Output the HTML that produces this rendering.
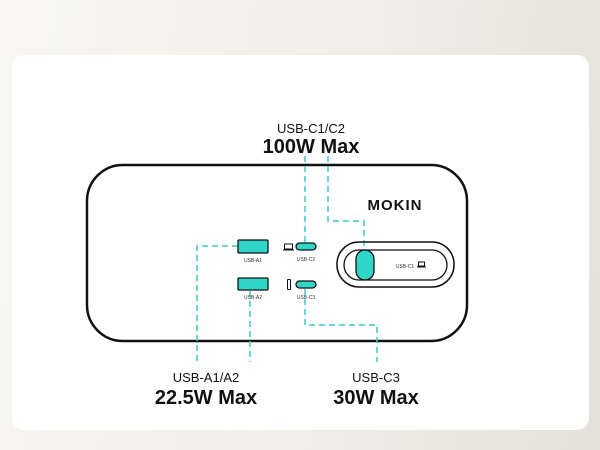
<!DOCTYPE html>
<html><head><style>
html,body{margin:0;padding:0;}
body{width:600px;height:450px;overflow:hidden;background:linear-gradient(100deg,#f8f7f3 0%,#efede6 60%,#e4e1d6 100%);font-family:"Liberation Sans",sans-serif;}
</style></head><body>
<svg width="600" height="450" xmlns="http://www.w3.org/2000/svg" style="position:absolute;left:0;top:0">
<rect x="12" y="55" width="577" height="375" rx="12" fill="#fff"/>
<rect x="87" y="165" width="380" height="176" rx="36" fill="none" stroke="#111" stroke-width="2.5"/>
<g fill="none" stroke="#3cc8cc" stroke-width="1.5" stroke-dasharray="6,4">
<path d="M305 156 V243"/>
<path d="M328 156 V221 H364 V250"/>
<path d="M238 246 H197 V362"/>
<path d="M250 291 V362"/>
<path d="M305 289 V325 H377 V362"/>
</g>
<g stroke="#111" stroke-width="1.3" fill="#2fd6c8">
<rect x="238" y="240" width="30" height="13" rx="1"/>
<rect x="238" y="278" width="30" height="12" rx="1"/>
<rect x="296" y="243" width="20" height="7" rx="3.5"/>
<rect x="296" y="281" width="20" height="7" rx="3.5"/>
</g>
<rect x="337" y="242" width="117" height="45" rx="22" fill="none" stroke="#111" stroke-width="1.5"/>
<rect x="344" y="250" width="103" height="30" rx="15" fill="none" stroke="#111" stroke-width="1.3"/>
<rect x="356" y="250" width="18" height="30" rx="9" fill="#2fd6c8" stroke="#111" stroke-width="1.3"/>
<g fill="none" stroke="#111" stroke-width="1">
<rect x="284.5" y="244" width="8" height="5"/><path d="M283 250 H294"/>
<rect x="287.5" y="279.5" width="3" height="10" rx="0.5"/>
<rect x="418.5" y="262" width="6" height="4"/><path d="M417 267 H426"/>
</g>
<g font-family="Liberation Sans, sans-serif" fill="#333" font-size="5" text-anchor="middle">
<text x="253" y="262">USB-A1</text>
<text x="253" y="299">USB-A2</text>
<text x="306" y="261">USB-C2</text>
<text x="306" y="299">USB-C3</text>
<text x="405" y="268">USB-C1</text>
</g>
<text x="395" y="210" font-size="15" font-weight="bold" text-anchor="middle" fill="#111" letter-spacing="1">MOKIN</text>
<g text-anchor="middle" fill="#111">
<text x="311" y="133" font-size="13">USB-C1/C2</text>
<text x="311" y="153" font-size="20" font-weight="bold">100W Max</text>
<text x="206" y="382" font-size="13">USB-A1/A2</text>
<text x="206" y="404" font-size="20" font-weight="bold">22.5W Max</text>
<text x="376" y="382" font-size="13">USB-C3</text>
<text x="376" y="404" font-size="20" font-weight="bold">30W Max</text>
</g>
</svg>
</body></html>
